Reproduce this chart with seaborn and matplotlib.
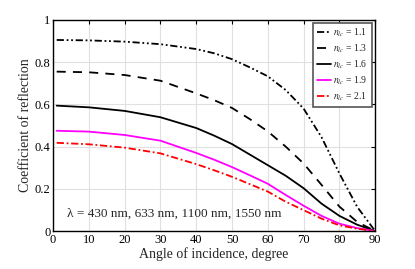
import matplotlib
matplotlib.use("Agg")
import matplotlib.pyplot as plt
import seaborn as sns
import numpy as np
import pandas as pd

# ── data ──────────────────────────────────────────────────────
angle = [1, 10, 20, 30, 40, 45, 50, 55, 60, 65, 70, 75, 80, 85, 90]
r_11 = [0.905, 0.903, 0.897, 0.885, 0.862, 0.842, 0.814, 0.775, 0.733, 0.668, 0.580, 0.445, 0.273, 0.114, 0.0]
r_13 = [0.755, 0.752, 0.739, 0.712, 0.652, 0.620, 0.583, 0.530, 0.472, 0.400, 0.320, 0.219, 0.116, 0.043, 0.0]
r_16 = [0.594, 0.586, 0.569, 0.539, 0.488, 0.452, 0.412, 0.362, 0.312, 0.262, 0.203, 0.130, 0.072, 0.030, 0.0]
r_19 = [0.475, 0.471, 0.455, 0.428, 0.370, 0.338, 0.303, 0.264, 0.224, 0.171, 0.120, 0.072, 0.035, 0.014, 0.0]
r_21 = [0.418, 0.411, 0.395, 0.368, 0.317, 0.288, 0.257, 0.222, 0.187, 0.139, 0.099, 0.059, 0.027, 0.011, 0.0]
n_lc = ["1.1", "1.3", "1.6", "1.9", "2.1"]

series = [r_11, r_13, r_16, r_19, r_21]
colors = ["black", "black", "black", "magenta", "red"]
styles = [(0, (4, 1.5, 1, 1.5, 1, 1.5)), (0, (5, 4)), "-", "-", (0, (4, 1.5, 1, 1.5))]

sns.set_style("whitegrid")
plt.rcParams["font.family"] = ["Liberation Serif", "DejaVu Serif"]
plt.rcParams["mathtext.fontset"] = "stix"

fig = plt.figure(figsize=(4.15, 2.69), dpi=100)
ax = fig.add_axes([0.128, 0.141, 0.776, 0.785])

for vals, n, c, ls in zip(series, n_lc, colors, styles):
    df = pd.DataFrame({"angle": angle, "R": vals})
    sns.lineplot(data=df, x="angle", y="R", color=c, linestyle=ls, lw=1.3,
                 label=r"$n_{lc}$ = " + n, ax=ax)

ax.set_xlim(0, 90)
ax.set_ylim(0, 1)
ax.set_xticks(range(0, 91, 10))
ax.set_yticks([0, 0.2, 0.4, 0.6, 0.8, 1])
ax.set_yticklabels(["0", "0.2", "0.4", "0.6", "0.8", "1"])
ax.grid(True, color="#e0e0e0", lw=0.8)
for s in ax.spines.values():
    s.set_color("black")
    s.set_linewidth(1.0)
ax.tick_params(direction="in", length=3, width=0.8, top=True, right=True,
               labelsize=9, colors="black", pad=2)
ax.set_xlabel("Angle of incidence, degree", fontsize=10, labelpad=1)
ax.set_ylabel("Coefficient of reflection", fontsize=10, labelpad=2)

ax.text(3.9, 0.07, "λ = 430 nm, 633 nm, 1100 nm, 1550 nm", fontsize=9.5)

leg = ax.legend(loc="upper right", bbox_to_anchor=(0.992, 0.99), fontsize=7,
                handlelength=1.5, handletextpad=0.2, labelspacing=0.35,
                borderpad=0.4, borderaxespad=0.1,
                fancybox=False, framealpha=1, edgecolor="#555555")
leg.get_frame().set_linewidth(1.2)

fig.savefig("out.png", dpi=100)
